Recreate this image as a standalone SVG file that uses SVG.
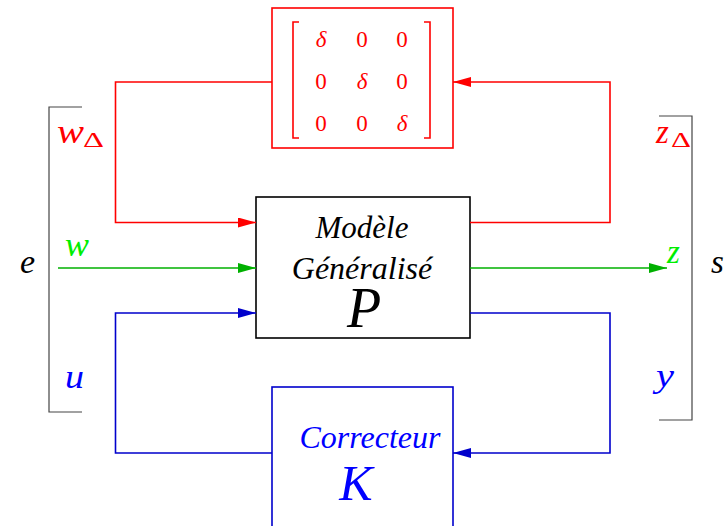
<svg xmlns="http://www.w3.org/2000/svg" width="726" height="526" viewBox="0 0 726 526">
  <style>
    .red { fill: #ff0000; }
    .grn { fill: #00ee00; }
    .blu { fill: #0000ff; }
    .blk { fill: #000000; }
    .lr { stroke: #ff0000; stroke-width: 1.6; fill: none; }
    .lg { stroke: #00b000; stroke-width: 1.6; fill: none; }
    .lb { stroke: #0000cc; stroke-width: 1.6; fill: none; }
    .br { stroke: #444444; stroke-width: 1.2; fill: none; }
  </style>
  <defs>
    <marker id="ar" viewBox="0 0 18 10" refX="18" refY="5" markerWidth="18" markerHeight="10" markerUnits="userSpaceOnUse" orient="auto">
      <path d="M0,0 L18,5 L0,10 Z" fill="#ff0000"/>
    </marker>
    <marker id="ag" viewBox="0 0 18 10" refX="18" refY="5" markerWidth="18" markerHeight="10" markerUnits="userSpaceOnUse" orient="auto">
      <path d="M0,0 L18,5 L0,10 Z" fill="#00b000"/>
    </marker>
    <marker id="ab" viewBox="0 0 18 10" refX="18" refY="5" markerWidth="18" markerHeight="10" markerUnits="userSpaceOnUse" orient="auto">
      <path d="M0,0 L18,5 L0,10 Z" fill="#0000cc"/>
    </marker>
  </defs>

  <!-- uncertainty block Delta -->
  <g id="delta" font-family="'Liberation Serif', serif">
    <rect x="272" y="8" width="181" height="140" fill="#ffffff" stroke="#ff0000" stroke-width="1.6"/>
    <path d="M299,22 H293 V138 H299 M424,22 H430 V138 H424" stroke="#ff0000" stroke-width="1.6" fill="none"/>
    <g class="red" font-size="23" font-style="italic" text-anchor="middle">
      <text x="321" y="47">δ</text>
      <text x="362" y="89">δ</text>
      <text x="402" y="131">δ</text>
    </g>
    <g class="red" font-size="23" text-anchor="middle">
      <text x="362" y="47">0</text>
      <text x="402" y="47">0</text>
      <text x="321" y="89">0</text>
      <text x="402" y="89">0</text>
      <text x="321" y="131">0</text>
      <text x="362" y="131">0</text>
    </g>
  </g>

  <!-- generalized plant P -->
  <g id="plant" font-family="'Liberation Serif', serif" font-style="italic">
    <rect x="256" y="197" width="214" height="141" fill="#ffffff" stroke="#000000" stroke-width="1.6"/>
    <text class="blk" x="362" y="238" font-size="31" text-anchor="middle">Modèle</text>
    <text class="blk" x="362" y="279" font-size="32" text-anchor="middle">Généralisé</text>
    <text class="blk" x="364" y="327" font-size="56" text-anchor="middle">P</text>
  </g>

  <!-- controller K -->
  <g id="controller" font-family="'Liberation Serif', serif" font-style="italic">
    <rect x="272" y="387" width="181" height="150" fill="#ffffff" stroke="#0000cc" stroke-width="1.6"/>
    <text class="blu" x="370" y="448" font-size="32" text-anchor="middle">Correcteur</text>
    <text class="blu" x="356" y="500" font-size="50" text-anchor="middle">K</text>
  </g>

  <!-- signal connectors -->
  <g id="connectors">
    <path class="lr" d="M272,82 H115.5 V222.5 H256" marker-end="url(#ar)"/>
    <path class="lr" d="M470,222.5 H610 V82 H453" marker-end="url(#ar)"/>
    <path class="lg" d="M58,268 H256" marker-end="url(#ag)"/>
    <path class="lg" d="M470,268 H667" marker-end="url(#ag)"/>
    <path class="lb" d="M272,453 H115.5 V313 H256" marker-end="url(#ab)"/>
    <path class="lb" d="M470,313 H610 V453 H453" marker-end="url(#ab)"/>
  </g>

  <!-- input vector e -->
  <g id="inputs" font-family="'Liberation Serif', serif">
    <path class="br" d="M82,107 H49 V412 H82"/>
    <text class="blk" x="20" y="273" font-size="34" font-style="italic">e</text>
    <text class="red" x="57" y="143" font-size="33" font-style="italic" textLength="27" lengthAdjust="spacingAndGlyphs">w</text>
    <text class="red" x="83" y="147" font-size="20" textLength="21" lengthAdjust="spacingAndGlyphs">Δ</text>
    <text class="grn" x="65" y="256" font-size="33" font-style="italic" textLength="24" lengthAdjust="spacingAndGlyphs">w</text>
    <text class="blu" x="65" y="388" font-size="33" font-style="italic" textLength="19" lengthAdjust="spacingAndGlyphs">u</text>
  </g>

  <!-- output vector s -->
  <g id="outputs" font-family="'Liberation Serif', serif">
    <path class="br" d="M659,116 H692 V420 H659"/>
    <text class="blk" x="711" y="273" font-size="33" font-style="italic">s</text>
    <text class="red" x="656" y="143" font-size="33" font-style="italic">z</text>
    <text class="red" x="671" y="147" font-size="20" textLength="20" lengthAdjust="spacingAndGlyphs">Δ</text>
    <text class="grn" x="667" y="263" font-size="33" font-style="italic">z</text>
    <text class="blu" x="656" y="387" font-size="33" font-style="italic" textLength="18" lengthAdjust="spacingAndGlyphs">y</text>
  </g>
</svg>
